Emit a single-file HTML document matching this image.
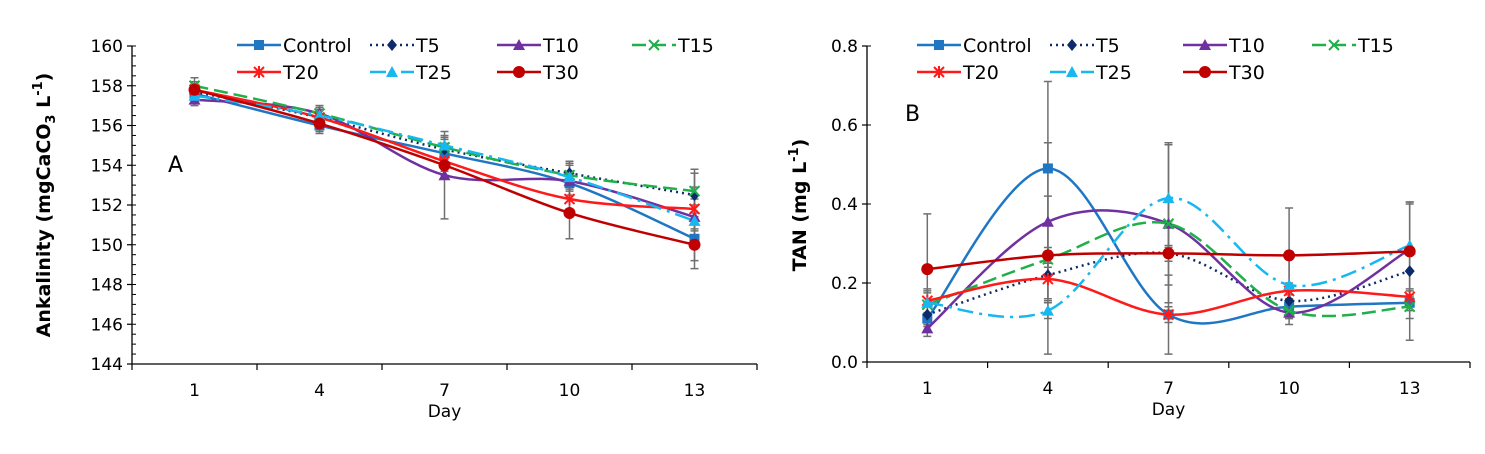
<!DOCTYPE html>
<html><head><meta charset="utf-8">
<style>
body{margin:0;background:#fff;}
svg text{font-family:"DejaVu Sans","Liberation Sans",sans-serif;fill:#000;}
</style></head>
<body>
<svg id="chart" width="1485" height="449" viewBox="0 0 1485 449" xmlns="http://www.w3.org/2000/svg"></svg>
<script>
const days = ["1","4","7","10","13"];
const seriesNames = ["Control","T5","T10","T15","T20","T25","T30"];
// Panel A: alkalinity
const aControl = [157.6,156.0,154.6,153.1,150.3];
const aT5 = [157.7,156.4,154.8,153.6,152.5];
const aT10 = [157.3,156.6,153.5,153.2,151.4];
const aT15 = [158.0,156.6,154.9,153.5,152.7];
const aT20 = [157.8,156.4,154.2,152.3,151.8];
const aT25 = [157.5,156.5,155.0,153.4,151.2];
const aT30 = [157.8,156.1,154.0,151.6,150.0];
const aErr = [0.4,0.4,0.5,0.6,1.1];
const aErrT10 = [0.3,0.4,2.2,0.5,0.6];
const aErrT30 = [0.3,0.4,0.5,1.3,1.2];
const aTicks = [144,146,148,150,152,154,156,158,160];
// Panel B: TAN
const bControl = [0.11,0.49,0.12,0.14,0.15];
const bT5 = [0.12,0.22,0.275,0.155,0.23];
const bT10 = [0.085,0.355,0.35,0.125,0.285];
const bT15 = [0.145,0.26,0.35,0.13,0.14];
const bT20 = [0.155,0.21,0.12,0.18,0.165];
const bT25 = [0.15,0.13,0.415,0.195,0.295];
const bT30 = [0.235,0.27,0.275,0.27,0.28];
const bErrControl = [0.03,0.22,0.02,0.03,0.02];
const bErrT5 = [0.03,0.2,0.08,0.04,0.05];
const bErrT10 = [0.02,0.2,0.2,0.03,0.12];
const bErrT15 = [0.03,0.02,0.06,0.02,0.03];
const bErrT20 = [0.03,0.05,0.1,0.02,0.11];
const bErrT25 = [0.03,0.02,0.14,0.08,0.11];
const bErrT30 = [0.14,0.02,0.02,0.12,0.12];
const bTicks = [0.0,0.2,0.4,0.6,0.8];

const NS="http://www.w3.org/2000/svg";
const svg=document.getElementById('chart');
function mk(tag,attrs,parent){const e=document.createElementNS(NS,tag);for(const k in attrs)e.setAttribute(k,attrs[k]);(parent||svg).appendChild(e);return e;}

const styles={
 Control:{c:"#1f77c4",dash:"",m:"square",w:2.5},
 T5:{c:"#0d2a6b",dash:"2,4",m:"diamond",w:2.5},
 T10:{c:"#7030a0",dash:"",m:"triangle",w:2.5},
 T15:{c:"#1fb04a",dash:"14,6",m:"x",w:2.5},
 T20:{c:"#ff1a1a",dash:"",m:"star",w:2.5},
 T25:{c:"#17b7f0",dash:"16,6,3,6",m:"triangle",w:2.5},
 T30:{c:"#c00000",dash:"",m:"circle",w:2.5}
};

function marker(g,type,x,y,c){
 let e;
 if(type==="square")e=mk('rect',{x:x-5,y:y-5,width:10,height:10,fill:c},g);
 else if(type==="diamond")e=mk('polygon',{points:`${x},${y-6} ${x+5},${y} ${x},${y+6} ${x-5},${y}`,fill:c},g);
 else if(type==="triangle")e=mk('polygon',{points:`${x},${y-6} ${x+6},${y+5} ${x-6},${y+5}`,fill:c},g);
 else if(type==="circle")e=mk('circle',{cx:x,cy:y,r:6,fill:c},g);
 else if(type==="x")e=mk('path',{d:`M${x-5},${y-5}L${x+5},${y+5}M${x-5},${y+5}L${x+5},${y-5}`,stroke:c,'stroke-width':2,fill:'none'},g);
 else e=mk('path',{d:`M${x-5},${y-5}L${x+5},${y+5}M${x-5},${y+5}L${x+5},${y-5}M${x},${y-6}L${x},${y+6}`,stroke:c,'stroke-width':2,fill:'none'},g);
 return e;
}
function smooth(pts){
 let d=`M${pts[0][0]},${pts[0][1]}`;
 for(let i=0;i<pts.length-1;i++){
  const p0=pts[i-1]||pts[i],p1=pts[i],p2=pts[i+1],p3=pts[i+2]||p2;
  const t=1/6;
  d+=` C${p1[0]+(p2[0]-p0[0])*t},${p1[1]+(p2[1]-p0[1])*t} ${p2[0]-(p3[0]-p1[0])*t},${p2[1]-(p3[1]-p1[1])*t} ${p2[0]},${p2[1]}`;
 }
 return d;
}

function panel(cfg){
 const {x0,x1,y0,y1,min,max,ticks,fmt,minor,series,errs,prefix}=cfg;
 const xs=i=>x0+(x1-x0)/days.length*(i+0.5);
 const ys=v=>y1-(v-min)/(max-min)*(y1-y0);
 const g=mk('g',{});
 
 
 const ax=mk('line',{x1:x0,y1:y0,x2:x0,y2:y1,stroke:'#000','stroke-width':1.3},g);
 
 
 const bx=mk('line',{x1:x0,y1:y1,x2:x1,y2:y1,stroke:'#000','stroke-width':1.3},g);
 
 
 for(let v=min;v<=max+1e-9;v+=minor){mk('line',{x1:x0,y1:ys(v),x2:x0+4,y2:ys(v),stroke:'#000','stroke-width':1},g);}
 ticks.forEach(v=>{
  mk('line',{x1:x0-5,y1:ys(v),x2:x0,y2:ys(v),stroke:'#000','stroke-width':1.2},g);
  const t=mk('text',{x:x0-9,y:ys(v)+6,'text-anchor':'end','font-size':17},g);t.textContent=fmt(v);
  
  
 });
 for(let i=0;i<=days.length;i++){const x=x0+(x1-x0)/days.length*i;mk('line',{x1:x,y1:y1,x2:x,y2:y1+6,stroke:'#000','stroke-width':1.2},g);}
 days.forEach((d,i)=>{const t=mk('text',{x:xs(i),y:y1+32,'text-anchor':'middle','font-size':17},g);t.textContent=d;
  
  });
 const dt=mk('text',{x:(x0+x1)/2,y:y1+53,'text-anchor':'middle','font-size':17},g);dt.textContent="Day";
 
 
 seriesNames.forEach((n,si)=>{
  const e=errs[si];
  series[si].forEach((v,i)=>{
   const x=xs(i),a=ys(v+e[i]),b=ys(v-e[i]);
   mk('path',{d:`M${x},${a}L${x},${b}M${x-4},${a}L${x+4},${a}M${x-4},${b}L${x+4},${b}`,stroke:'#707070','stroke-width':1.5,fill:'none'},g);
  });
 });
 seriesNames.forEach((n,si)=>{
  const s=styles[n];
  const pts=series[si].map((v,i)=>[xs(i),ys(v)]);
  const p=mk('path',{d:smooth(pts),stroke:s.c,'stroke-width':s.w,fill:'none','stroke-dasharray':s.dash},g);
  
  
  pts.forEach(q=>{const m=marker(g,s.m,q[0],q[1],s.c);
   
   });
 });
 const lx=cfg.legX, ly=[45,72];
 seriesNames.forEach((n,i)=>{
  const s=styles[n];const row=i<4?0:1;const col=i<4?i:i-4;
  const x=lx[col],y=ly[row];
  const lg=mk('g',{},g);
  
  
  mk('line',{x1:x,y1:y,x2:x+44,y2:y,stroke:s.c,'stroke-width':2.5,'stroke-dasharray':s.dash},lg);
  marker(lg,s.m,x+22,y,s.c);
  const t=mk('text',{x:x+46,y:y+7,'font-size':19},lg);t.textContent=n;
 });
 const L=mk('text',{x:cfg.labX,y:cfg.labY,'font-size':22},g);L.textContent=cfg.letter;
 
 
}

panel({x0:132,x1:757,y0:46,y1:364,min:144,max:160,ticks:aTicks,fmt:v=>String(v),minor:0.5,
 series:[aControl,aT5,aT10,aT15,aT20,aT25,aT30],
 errs:[aErr,aErr,aErrT10,aErr,aErr,aErr,aErrT30],prefix:'alkalinity',
 legX:[237,370,497,632],letter:'A',labX:168,labY:172});
panel({x0:867,x1:1470,y0:46,y1:362,min:0,max:0.8,ticks:bTicks,fmt:v=>v.toFixed(1),minor:0.2,
 series:[bControl,bT5,bT10,bT15,bT20,bT25,bT30],
 errs:[bErrControl,bErrT5,bErrT10,bErrT15,bErrT20,bErrT25,bErrT30],prefix:'tan',
 legX:[917,1050,1183,1312],letter:'B',labX:905,labY:121});

const ya=mk('text',{x:0,y:0,'font-size':19,'font-weight':'bold','text-anchor':'middle',transform:'translate(50,205) rotate(-90)'});
ya.innerHTML='Ankalinity (mgCaCO<tspan font-size="13" dy="5">3</tspan><tspan dy="-5"> L</tspan><tspan font-size="13" dy="-8">-1</tspan><tspan dy="8">)</tspan>';


const yb=mk('text',{x:0,y:0,'font-size':19,'font-weight':'bold','text-anchor':'middle',transform:'translate(806,205) rotate(-90)'});
yb.innerHTML='TAN (mg L<tspan font-size="13" dy="-8">-1</tspan><tspan dy="8">)</tspan>';


</script>
</body></html>
